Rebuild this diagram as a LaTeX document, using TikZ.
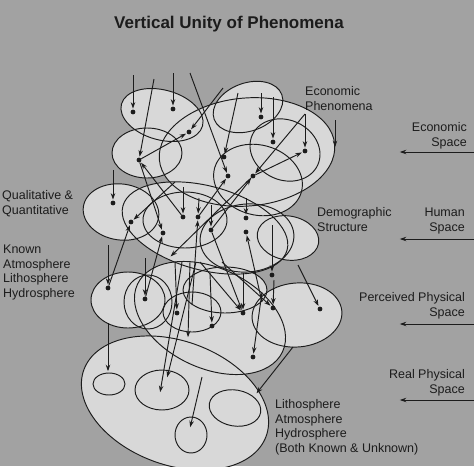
\documentclass[tikz,border=0pt]{standalone}
\usepackage{fontspec}
\setmainfont{Liberation Sans}
\usetikzlibrary{arrows.meta}
\definecolor{bgc}{RGB}{162,162,162}
\definecolor{efc}{RGB}{216,216,216}
\definecolor{ink}{RGB}{28,28,28}
\begin{document}
\begin{tikzpicture}[x=1pt,y=-1pt,
  ln/.style={ink, line width=0.95pt},
  arr/.style={ln, -{Stealth[length=6.5pt,width=4.5pt]}, shorten >=0.8pt},
  dotn/.style={circle, fill=ink, inner sep=0pt, minimum size=4.8pt},
  lab/.style={font=\fontsize{12.5}{14.4}\selectfont, text=ink, inner sep=0pt, align=left},
  labr/.style={lab, align=right}]
\useasboundingbox (0,0) rectangle (474,466);
\fill[bgc] (0,0) rectangle (474,466);
\clip (0,0) rectangle (474,466);
% ellipses: cx/cy/rx/ry/rotation
\def\ellist{162/115/42/25/-15, 147/153/35/25/0, 247/152/88/54/5, 248/107/36/24/20,
  285/150/36/30/-25, 258/180/45/35/-15, 121/212/38/28/-8, 205/228/85/42/-15,
  185/220/42/28/0, 247/238/47/34/5, 288/238/31/22/-10, 128/300/37/28/0,
  148/302/24/27/0, 210/318/80/50/-25, 192/312/29/20/0, 225/290/42/23/0,
  297/315/45/32/5, 175/403/97/62/-20, 109/384/16/11/0, 162/390/27/20/0,
  235/408/26/18/-10, 191/435/16/18/0}
\foreach \cx/\cy/\rx/\ry/\rt in \ellist
  {\fill[efc, rotate around={\rt:(\cx,\cy)}] (\cx,\cy) ellipse (\rx pt and \ry pt);}
\foreach \cx/\cy/\rx/\ry/\rt in \ellist
  {\draw[ln, rotate around={\rt:(\cx,\cy)}] (\cx,\cy) ellipse (\rx pt and \ry pt);}
% dots
\foreach \n/\x/\y in {d1/133/112, d2/173/109, d3/139/160, d4/189/132, d5/224/157,
  d6/228/176, d7/261/117, d8/273/142, d9/305/151, d10/253/176, d11/113/203,
  d12/131/222, d13/163/233, d14/183/217, d15/198/217, d16/211/230, d17/246/218,
  d27/246/232, d18/272/275, d19/108/288, d20/145/299, d21/177/313, d22/212/326,
  d23/243/313, d24/273/308, d25/320/309, d26/253/357}
  {\node[dotn] (\n) at (\x,\y) {};}
% free ends
\foreach \n/\x/\y in {s1/133/75, s2/154/79, s3/173/73, s4/190/73, s5/223/88,
  s6/238/93, s7/261/93, s8/273/97, s9/305/114, s10/335/120, t10/335/148,
  s11/113/170, s12/175/182, s13/183/187, s14/199/198, s15/211/205, t16/170/257,
  s17/246/198, s18/262/302, s19/272/225, s20/298/265, s21/108/245, s22/145/258,
  s23/175/262, s24/192/305, s25/210/273, s26/243/273, s27/274/280, s28/262/292,
  s29/293/347, t29/256/394, s30/108/323, t30/108/372, s31/182/262, t31/160/393,
  s32/196/262, t32/167/378, s33/190/262, t33/188/338, s34/202/377, t34/190/428,
  s35/222/262, s36/200/262}
  {\coordinate (\n) at (\x,\y);}
% connectors
\foreach \a/\b in {s1/d1, s2/d3, s3/d2, s4/d6, s5/d4, d3/d4, s6/d5, s7/d7, s8/d8,
  s9/d9, s9/d10, d10/d9, s10/t10, s11/d11, s12/d12, d3/d13, d14/d3, s13/d14,
  s14/d15, d15/d6, s15/d16, d16/d10, d10/t16, s17/d17, s18/d27, s19/d18, s20/d25,
  s21/d19, d19/d12, s22/d20, d20/d13, s23/d21, s24/d15, d16/d23, s25/d22, s26/d23,
  s27/d24, s28/d26, s29/t29, s30/t30, s31/t31, s32/t32, s33/t33, s34/t34,
  s35/d24, s36/d23}
  {\draw[arr] (\a) -- (\b);}
% title
\node[font=\fontsize{17}{20}\selectfont\bfseries, text=ink, inner sep=0pt, anchor=base]
  (title) at (229,28) {Vertical Unity of Phenomena};
% labels (anchor = baseline of the last line)
\node[lab, anchor=base west] (econph) at (305,110) {Economic\\Phenomena};
\node[labr, anchor=base east] (econsp) at (467,146) {Economic\\Space};
\node[lab, anchor=base west] (qual) at (2,214) {Qualitative \&\\Quantitative};
\node[lab, anchor=base west] (known) at (3,297) {Known\\Atmosphere\\Lithosphere\\Hydrosphere};
\node[lab, anchor=base west] (demo) at (317,231) {Demographic\\Structure};
\node[labr, anchor=base east] (human) at (465,231) {Human\\Space};
\node[labr, anchor=base east] (perc) at (465,316) {Perceived Physical\\Space};
\node[labr, anchor=base east] (real) at (465,393) {Real Physical\\Space};
\node[lab, anchor=base west] (litho) at (275,452) {Lithosphere\\Atmosphere\\Hydrosphere\\(Both Known \& Unknown)};
% space arrows
\foreach \n/\y in {ra/152, rb/239, rc/324, rd/400}
  {\coordinate (\n s) at (474,\y); \coordinate (\n e) at (399,\y);
   \draw[arr] (\n s) -- (\n e);}
\end{tikzpicture}
\end{document}
